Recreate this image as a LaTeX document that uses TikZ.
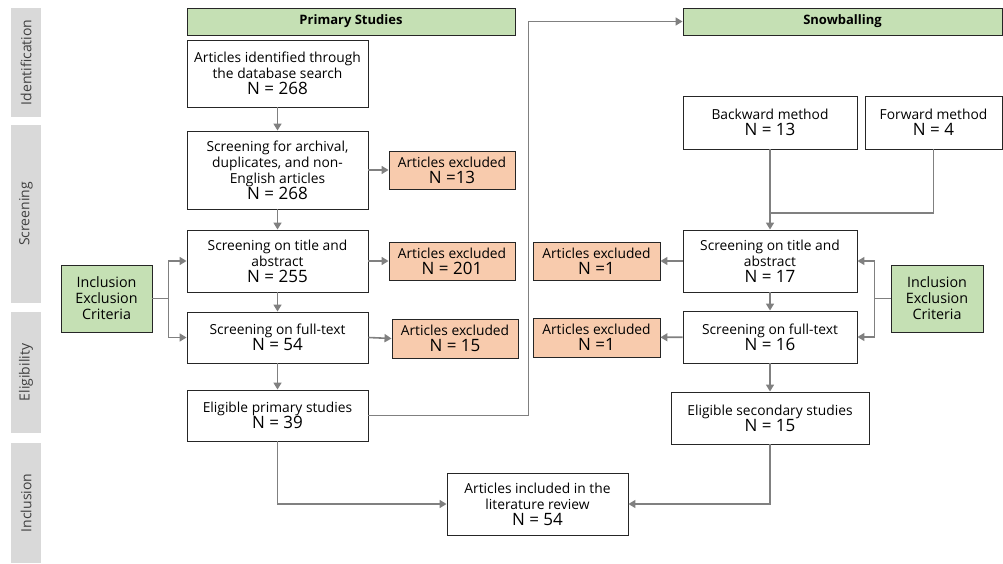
\documentclass[tikz,border=0pt]{standalone}
\usepackage{fontspec}
\setmainfont{Open Sans}
\usetikzlibrary{arrows.meta, positioning}
\definecolor{critgreen}{HTML}{C5E0B4}
\definecolor{exclorange}{HTML}{F8CBAD}
\definecolor{phasegray}{HTML}{D9D9D9}
\definecolor{phasetext}{HTML}{404040}
\definecolor{flowgray}{HTML}{808080}
\definecolor{edgedark}{HTML}{262626}
\newcommand{\nval}[1]{{\fontsize{17}{18}\selectfont #1}}

\begin{document}
\begin{tikzpicture}[x=1pt, y=-1pt,
  box/.style={draw=edgedark, line width=0.9pt, fill=white, align=center,
    inner sep=0pt, font=\fontsize{13.8}{16}\selectfont},
  header/.style={box, fill=critgreen, font=\fontsize{13}{15}\selectfont\bfseries},
  excl/.style={box, fill=exclorange},
  crit/.style={box, fill=critgreen, font=\fontsize{14.3}{16}\selectfont},
  phase/.style={fill=phasegray, rotate=90, minimum height=30pt, inner sep=0pt,
    text=phasetext, font=\fontsize{14}{16}\selectfont},
  flow/.style={draw=flowgray, line width=1.6pt, -{Triangle[length=7pt,width=8pt]}},
  plain/.style={draw=flowgray, line width=1.6pt}]
  \useasboundingbox (0,0) rectangle (1003,564);

  % phase bars on the left
  \node[phase, minimum width=109pt] (pid)  at (26,62.5)  {Identification};
  \node[phase, minimum width=178pt] (pscr) at (26,214)   {Screening};
  \node[phase, minimum width=121pt] (pelg) at (26,372.5) {Eligibility};
  \node[phase, minimum width=120pt] (pinc) at (26,503)   {Inclusion};

  % headers
  \node[header, minimum width=328pt, minimum height=27pt] (prim) at (351,21.5) {Primary Studies};
  \node[header, minimum width=319pt, minimum height=27pt] (snow) at (842.5,21.5) {Snowballing};

  % primary studies column
  \node[box, minimum width=181pt, minimum height=67pt] (ident) at (277.5,73.5)
    {Articles identified through\\the database search\\\nval{N = 268}};
  \node[box, minimum width=181pt, minimum height=78pt] (arch) at (277.5,170)
    {Screening for archival,\\duplicates, and non-\\English articles\\\nval{N = 268}};
  \node[box, minimum width=181pt, minimum height=62pt] (title1) at (277.5,261)
    {Screening on title and\\abstract\\\nval{N = 255}};
  \node[box, minimum width=181pt, minimum height=51pt] (full1) at (277.5,337.5)
    {Screening on full-text\\\nval{N = 54}};
  \node[box, minimum width=181pt, minimum height=51pt] (elig1) at (277.5,415.5)
    {Eligible primary studies\\\nval{N = 39}};

  \node[excl, minimum width=126pt, minimum height=38pt] (ex1) at (452,170)
    {Articles excluded\\\nval{N =13}};
  \node[excl, minimum width=126pt, minimum height=38pt] (ex2) at (452,261)
    {Articles excluded\\\nval{N = 201}};
  \node[excl, minimum width=126pt, minimum height=39pt] (ex3) at (455,338.5)
    {Articles excluded\\\nval{N = 15}};

  \node[crit, minimum width=91pt, minimum height=67pt] (critL) at (106.5,298.5)
    {Inclusion\\Exclusion\\Criteria};

  % snowballing column
  \node[box, minimum width=174pt, minimum height=53pt] (back) at (770,122.5)
    {Backward method\\\nval{N = 13}};
  \node[box, minimum width=137pt, minimum height=53pt] (fwd) at (933.5,122.5)
    {Forward method\\\nval{N = 4}};
  \node[box, minimum width=174pt, minimum height=62pt] (title2) at (770,261)
    {Screening on title and\\abstract\\\nval{N = 17}};
  \node[box, minimum width=174pt, minimum height=52pt] (full2) at (770,337)
    {Screening on full-text\\\nval{N = 16}};
  \node[box, minimum width=198pt, minimum height=52pt] (elig2) at (770,418)
    {Eligible secondary studies\\\nval{N = 15}};

  \node[excl, minimum width=127pt, minimum height=38pt] (ex4) at (596.5,261)
    {Articles excluded\\\nval{N =1}};
  \node[excl, minimum width=127pt, minimum height=39pt] (ex5) at (596.5,337.5)
    {Articles excluded\\\nval{N =1}};

  \node[crit, minimum width=92pt, minimum height=67pt] (critR) at (937,298.5)
    {Inclusion\\Exclusion\\Criteria};

  % final box
  \node[box, minimum width=181pt, minimum height=62pt] (incl) at (537.5,504)
    {Articles included in the\\literature review\\\nval{N = 54}};

  \coordinate (merge) at (770,213);

  % connectors, primary side
  \draw[flow] (ident) -- (arch);
  \draw[flow] (arch) -- (title1);
  \draw[flow] (title1) -- (full1);
  \draw[flow] (full1) -- (elig1);
  \draw[flow] (arch) -- (ex1);
  \draw[flow] (title1) -- (ex2);
  \draw[flow] (full1.east) -- (ex3.west);
  \draw[flow] (critL.east) -- ++(16,0) |- (title1.west);
  \draw[flow] (critL.east) -- ++(16,0) |- (full1.west);
  \draw[flow] (elig1.east) -- ++(160,0) |- (snow.west);
  \draw[flow] (elig1.south) |- (incl.west);

  % connectors, snowballing side
  \draw[flow] (back) -- (title2);
  \draw[plain] (fwd.south) |- (merge);
  \draw[flow] (title2) -- (full2);
  \draw[flow] (full2) -- (elig2);
  \draw[flow] (title2) -- (ex4);
  \draw[flow] (full2) -- (ex5);
  \draw[flow] (critR.west) -- ++(-16,0) |- (title2.east);
  \draw[flow] (critR.west) -- ++(-16,0) |- (full2.east);
  \draw[flow] (elig2.south) |- (incl.east);
\end{tikzpicture}
\end{document}
